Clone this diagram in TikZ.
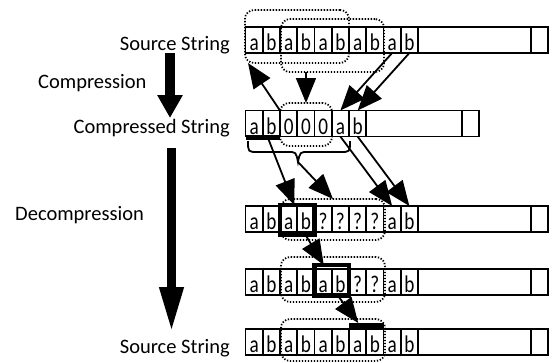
\documentclass[tikz,border=0pt]{standalone}
\usepackage{fontspec}
\setmainfont{Carlito}
\newfontfamily\cellfont[FakeStretch=0.8]{Carlito}
\usetikzlibrary{arrows.meta}
\newcommand\mkrow[5]{%
  \foreach \t [count=\i] in {#3} {\node[cell] (#1c\i) at ({245.5+17.25*(\i-1)},#2) {\t};}
  \node[cell, minimum width=#4pt] (#1e) at ({245.5+17.25*#5},#2) {};
  \node[cell] (#1s) at ({245.5+17.25*#5+#4},#2) {};
}
\tikzset{
  cell/.style={draw, line width=1.7pt, minimum width=17.25pt, minimum height=26pt,
    inner sep=0pt, outer sep=0pt, anchor=north west, text height=21pt, text depth=0pt,
    font=\cellfont\fontsize{24}{24}\selectfont},
  grp/.style={draw, line width=1.8pt, dash pattern=on 1.3pt off 1.7pt, rounded corners=9pt,
    inner sep=0pt, outer sep=0pt, anchor=north west},
  thk/.style={draw, line width=4.5pt, inner sep=0pt, outer sep=0pt, anchor=north west},
  arr/.style={line width=1.8pt, -{Triangle[length=25pt 0 0,width=20pt 0 0]}},
  lbl/.style={font=\fontsize{20.5}{24}\selectfont, inner sep=0pt},
}
\begin{document}
\begin{tikzpicture}[x=1pt,y=-1pt]
\useasboundingbox (0,0) rectangle (560,362);
% labels
\node[lbl, anchor=base east] (l1) at (230,50) {Source String};
\node[lbl, anchor=base west] (l2) at (38,88) {Compression};
\node[lbl, anchor=base east] (l3) at (230,133) {Compressed String};
\node[lbl, anchor=base west] (l4) at (15,220) {Decompression};
\node[lbl, anchor=base east] (l5) at (230,353) {Source String};
% big arrows
\coordinate (cA) at (170,53); \coordinate (cB) at (170,118);
\coordinate (dA) at (171.5,148); \coordinate (dB) at (171.5,333);
\draw[line width=10pt, -{Triangle[length=23pt 0 0,width=24pt 0 0]}] (cA) -- (cB);
\draw[line width=9.5pt, -{Triangle[length=46pt 0 0,width=22pt 0 0]}] (dA) -- (dB);
% rows
\mkrow{ra}{27}{a,b,a,b,a,b,a,b,a,b}{113}{10}
\mkrow{rb}{110.5}{a,b,0,0,0,a,b}{95.75}{7}
\mkrow{rc}{206}{a,b,a,b,?,?,?,?,a,b}{113}{10}
\mkrow{rd}{269}{a,b,a,b,a,b,?,?,a,b}{113}{10}
\mkrow{re}{329}{a,b,a,b,a,b,a,b,a,b}{113}{10}
% thick marks
\draw[line width=5pt] ([yshift=-0.5pt]rbc1.south west) -- ([yshift=-0.5pt]rbc2.south east);
\node[thk, minimum width=34.5pt, minimum height=29.5pt] (tb3) at (280,205) {};
\node[thk, minimum width=34.5pt, minimum height=30.5pt] (tb4) at (314.5,265) {};
\node[fill, inner sep=0pt, outer sep=0pt, anchor=north west, minimum width=34.5pt, minimum height=6pt] (tb5) at (349,323) {};
% dotted groups
\node[grp, minimum width=104pt, minimum height=53pt] (gA) at (245,10) {};
\node[grp, minimum width=103pt, minimum height=53pt] (gB) at (281,19) {};
\node[grp, minimum width=52pt, minimum height=43pt] (gC) at (280,103) {};
\node[grp, minimum width=104pt, minimum height=41pt] (gD) at (281,199) {};
\node[grp, minimum width=104pt, minimum height=45pt] (gE) at (281,257) {};
\node[grp, minimum width=104pt, minimum height=42pt] (gF) at (281,319) {};
% brace
\coordinate (braceTip) at (298,162);
\draw[line width=1.8pt] (248,141) .. controls (248,152) .. (258,152) -- (288,152)
  .. controls (296,152) .. (braceTip) .. controls (300,152) .. (308,152) -- (340,152)
  .. controls (350,152) .. (350,141);
% arrows
\draw[arr] (rbc2.north east) -- ([xshift=3pt]gA.south west);
\draw[arr] (gB.south -| gC.north) -- (gC.north);
\draw[arr] (rac9.south) -- (rbc6.north);
\draw[arr] (rac10.south) -- (rbc7.north);
\draw[arr] ([xshift=-4pt]rbc2.south) -- ([xshift=-3pt]tb3.north);
\draw[arr] (braceTip) -- (gD.north);
\draw[arr] (rbc6.south) -- (rcc9.north);
\draw[arr] (rbc7.south) -- (rcc10.north);
\draw[arr] ([xshift=8pt]tb3.south) -- ([xshift=-8pt]tb4.north);
\draw[arr] ([xshift=6pt]tb4.south) -- ([xshift=-8pt]tb5.north);
\end{tikzpicture}
\end{document}
